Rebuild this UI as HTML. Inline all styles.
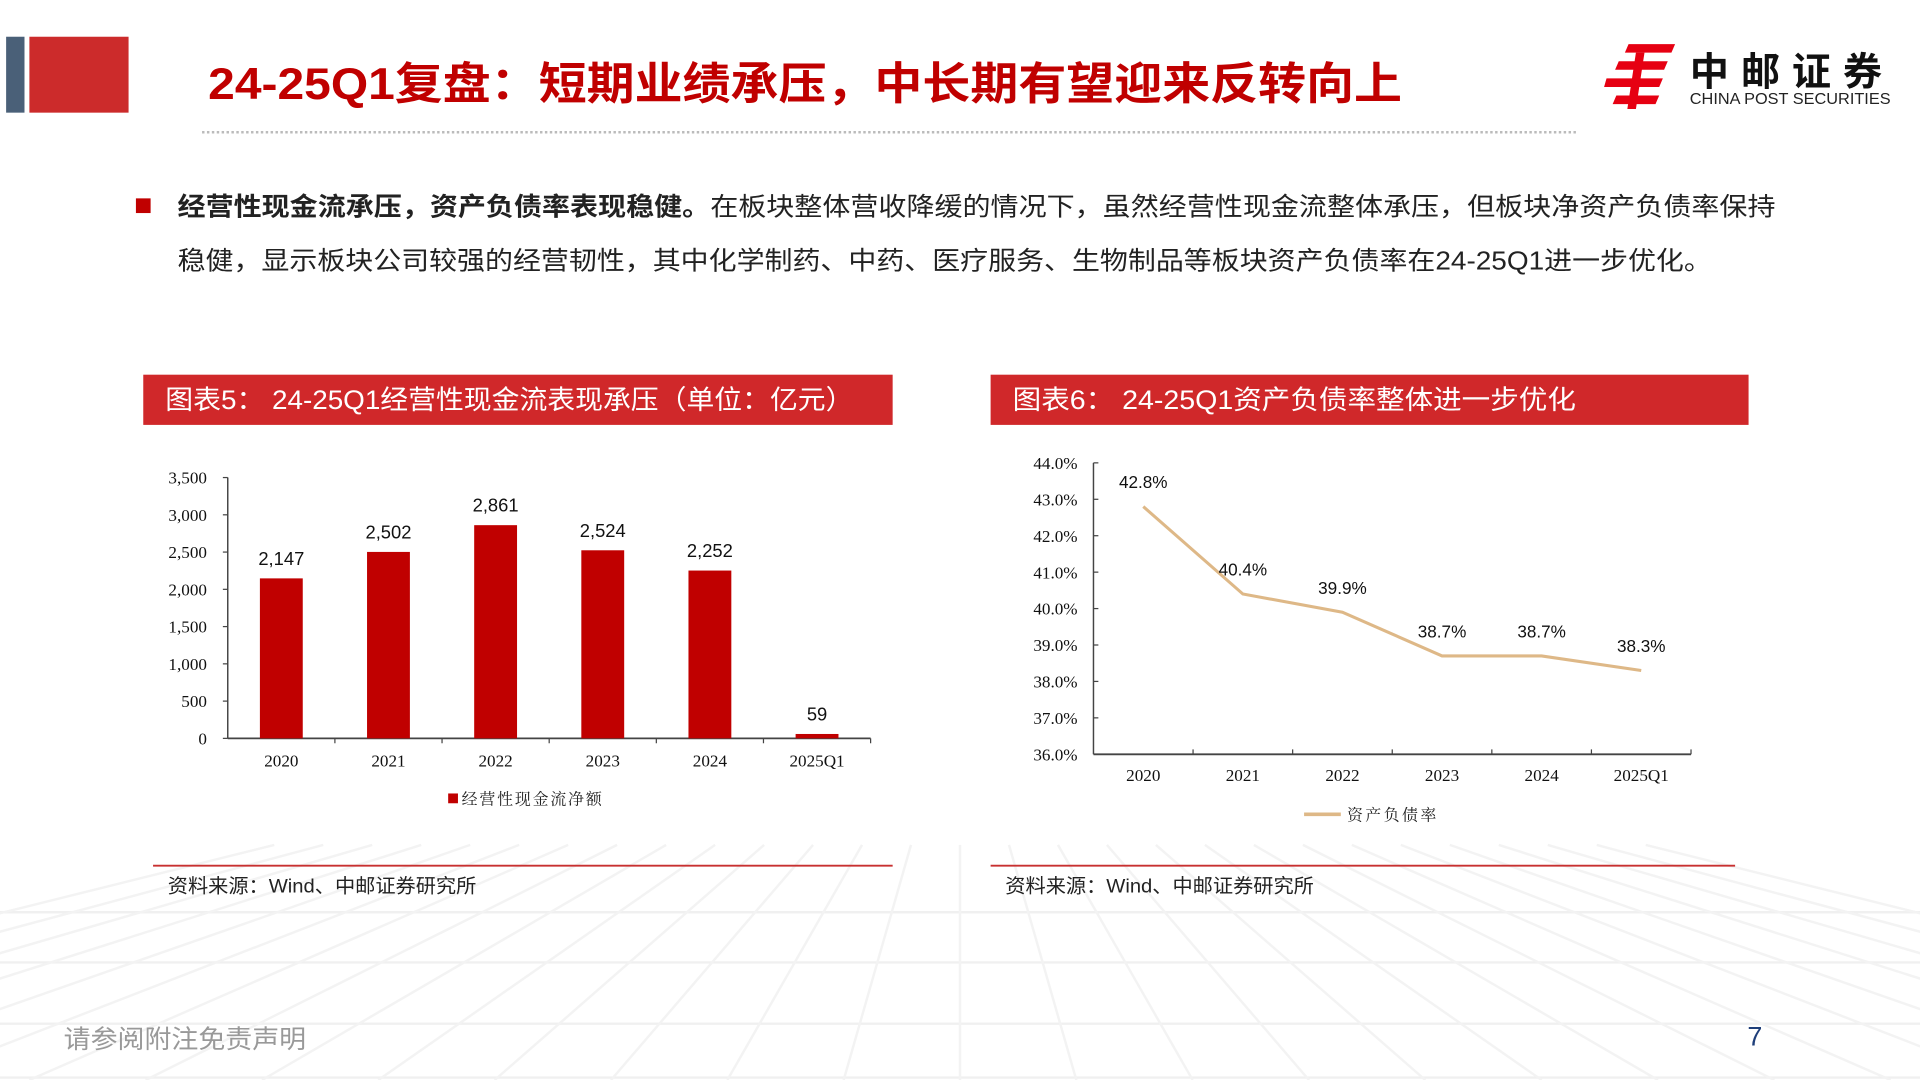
<!DOCTYPE html>
<html><head><meta charset="utf-8"><style>
html,body{margin:0;padding:0;background:#fff;}
svg{display:block;}
text{font-family:"Liberation Sans","Noto Sans CJK SC",sans-serif;}
.serif{font-family:"Liberation Serif","Noto Serif CJK SC",serif;}
</style></head><body>
<svg id="page" width="1920" height="1080" viewBox="0 0 1568 882" preserveAspectRatio="none" xmlns="http://www.w3.org/2000/svg">
<g id="floor"></g>
<rect x="5" y="30" width="15" height="62" fill="#4a6078"/>
<rect x="24" y="30" width="81" height="62" fill="#cc2b2b"/>
<text x="170" y="81" font-size="36" font-weight="bold" fill="#c00000" textLength="975" lengthAdjust="spacingAndGlyphs">24-25Q1复盘：短期业绩承压，中长期有望迎来反转向上</text>
<line x1="165" y1="108" x2="1288" y2="108" stroke="#bbb" stroke-width="2" stroke-dasharray="2 2"/>
<g>
<g fill="#e60012">
<polygon points="1330,36 1368,36 1365,43 1327,43"/>
<polygon points="1322,50 1362,50 1359,57 1319,57"/>
<polygon points="1312,64 1358,64 1355,71 1310,71"/>
<polygon points="1320,78 1355,78 1352,85 1317,85"/>
<polygon points="1336,43 1343,43 1336,89 1329,89"/>
</g>
<text x="1380" y="70" font-size="32" font-weight="bold" fill="#111" textLength="165" lengthAdjust="spacing" letter-spacing="8">中邮证券</text>
<text x="1380" y="85" font-size="13" fill="#222" textLength="164" lengthAdjust="spacingAndGlyphs">CHINA POST SECURITIES</text>
</g>
<rect x="111" y="162" width="12" height="12" fill="#c00000"/>
<text x="145" y="176" font-size="21" fill="#222" textLength="1305" lengthAdjust="spacingAndGlyphs"><tspan font-weight="bold">经营性现金流承压，资产负债率表现稳健。</tspan>在板块整体营收降缓的情况下，虽然经营性现金流整体承压，但板块净资产负债率保持</text>
<text x="145" y="220" font-size="21" fill="#222" textLength="1253" lengthAdjust="spacingAndGlyphs">稳健，显示板块公司较强的经营韧性，其中化学制药、中药、医疗服务、生物制品等板块资产负债率在24-25Q1进一步优化。</text>

<rect x="117" y="306" width="612" height="41" fill="#d0282a"/>
<text x="135" y="334" font-size="22" fill="#fff" textLength="562" lengthAdjust="spacingAndGlyphs">图表5： 24-25Q1经营性现金流表现承压（单位：亿元）</text>
<rect x="809" y="306" width="619" height="41" fill="#d0282a"/>
<text x="827" y="334" font-size="22" fill="#fff" textLength="460" lengthAdjust="spacingAndGlyphs">图表6： 24-25Q1资产负债率整体进一步优化</text>

<g id="bar-chart"></g>
<g id="line-chart"></g>

<line x1="125" y1="707" x2="729" y2="707" stroke="#c83030" stroke-width="1.5"/>
<line x1="809" y1="707" x2="1417" y2="707" stroke="#c83030" stroke-width="1.5"/>
<text x="137" y="729" font-size="16" fill="#222" textLength="252" lengthAdjust="spacingAndGlyphs">资料来源：Wind、中邮证券研究所</text>
<text x="821" y="729" font-size="16" fill="#222" textLength="252" lengthAdjust="spacingAndGlyphs">资料来源：Wind、中邮证券研究所</text>
<text x="52" y="856" font-size="21" fill="#999" textLength="198" lengthAdjust="spacingAndGlyphs">请参阅附注免责声明</text>
<text x="1427" y="854" font-size="22" fill="#1f3f7a">7</text>
</svg>
<script>
const NS="http://www.w3.org/2000/svg";
const barCats=["2020","2021","2022","2023","2024","2025Q1"];
const barVals=[2147,2502,2861,2524,2252,59];
const barTicks=[0,500,1000,1500,2000,2500,3000,3500];
const lineCats=["2020","2021","2022","2023","2024","2025Q1"];
const lineVals=[42.8,40.4,39.9,38.7,38.7,38.3];
const lineTicks=[36,37,38,39,40,41,42,43,44];

function mk(parent,tag,attrs,txt){const e=document.createElementNS(NS,tag);for(const k in attrs)e.setAttribute(k,attrs[k]);if(txt!==undefined)e.textContent=txt;parent.appendChild(e);return e;}

// floor grid
(function(){const g=document.getElementById('floor');
[745,786,836,880].forEach(y=>{const l=mk(g,'line',{x1:0,y1:y,x2:1568,y2:y,stroke:'#f0f0f0','stroke-width':2});

});
for(let i=-14;i<=14;i++){const xb=784+i*95;const l=mk(g,'line',{x1:784+i*40,y1:690,x2:xb,y2:882,stroke:'#f3f3f3','stroke-width':2});

}})();

// bar chart
(function(){const g=document.getElementById('bar-chart');
const x0=186,x1=711,y0=603,yt=390,max=3500;
const ys=v=>y0-v/max*(y0-yt);const bw=(x1-x0)/barCats.length;const xc=i=>x0+bw*(i+0.5);
mk(g,'line',{x1:x0,y1:yt,x2:x0,y2:y0,stroke:'#444','stroke-width':1.2});
mk(g,'line',{x1:x0,y1:y0,x2:x1,y2:y0,stroke:'#444','stroke-width':1.5});
barTicks.forEach(t=>{mk(g,'line',{x1:x0-4,y1:ys(t),x2:x0,y2:ys(t),stroke:'#444'});
const tx=mk(g,'text',{x:x0-17,y:ys(t)+5,'font-size':14,'text-anchor':'end',class:'serif',fill:'#111'},t.toLocaleString('en-US'));

});
for(let i=1;i<=barCats.length;i++)mk(g,'line',{x1:x0+bw*i,y1:y0,x2:x0+bw*i,y2:y0+4,stroke:'#444'});
barVals.forEach((v,i)=>{const r=mk(g,'rect',{x:xc(i)-17.5,y:ys(v),width:35,height:y0-ys(v),fill:'#c00000'});


const l=mk(g,'text',{x:xc(i),y:ys(v)-11,'font-size':15,'text-anchor':'middle',fill:'#111'},v.toLocaleString('en-US'));


const c=mk(g,'text',{x:xc(i),y:626,'font-size':14,'text-anchor':'middle',class:'serif',fill:'#111'},barCats[i]);

});
const lg=mk(g,'rect',{x:366,y:648,width:8,height:8,fill:'#c00000'});


const lt=mk(g,'text',{x:377,y:657,'font-size':13,class:'serif',fill:'#222','letter-spacing':'1.5'},'经营性现金流净额');

})();

// line chart
(function(){const g=document.getElementById('line-chart');
const x0=893,x1=1381,y0=616,yt=378,mn=36,mx=44;
const ys=v=>y0-(v-mn)/(mx-mn)*(y0-yt);const bw=(x1-x0)/lineCats.length;const xc=i=>x0+bw*(i+0.5);
mk(g,'line',{x1:x0,y1:yt,x2:x0,y2:y0,stroke:'#444','stroke-width':1.2});
mk(g,'line',{x1:x0,y1:y0,x2:x1,y2:y0,stroke:'#444','stroke-width':1.5});
lineTicks.forEach(t=>{mk(g,'line',{x1:x0,y1:ys(t),x2:x0+4,y2:ys(t),stroke:'#444'});
const tx=mk(g,'text',{x:x0-13,y:ys(t)+5,'font-size':14,'text-anchor':'end',class:'serif',fill:'#111'},t.toFixed(1)+'%');

});
for(let i=1;i<=lineCats.length;i++)mk(g,'line',{x1:x0+bw*i,y1:y0,x2:x0+bw*i,y2:y0-4,stroke:'#444'});
const pts=lineVals.map((v,i)=>xc(i)+','+ys(v)).join(' ');
const pl=mk(g,'polyline',{points:pts,fill:'none',stroke:'#deb887','stroke-width':2.5});


lineVals.forEach((v,i)=>{const l=mk(g,'text',{x:xc(i),y:ys(v)-15,'font-size':14,'text-anchor':'middle',fill:'#111'},v.toFixed(1)+'%');


const c=mk(g,'text',{x:xc(i),y:638,'font-size':14,'text-anchor':'middle',class:'serif',fill:'#111'},lineCats[i]);

});
const ll=mk(g,'line',{x1:1065,y1:665,x2:1095,y2:665,stroke:'#deb887','stroke-width':3});


const lt=mk(g,'text',{x:1100,y:670,'font-size':13,class:'serif',fill:'#222','letter-spacing':'2'},'资产负债率');

})();
</script>
</body></html>
